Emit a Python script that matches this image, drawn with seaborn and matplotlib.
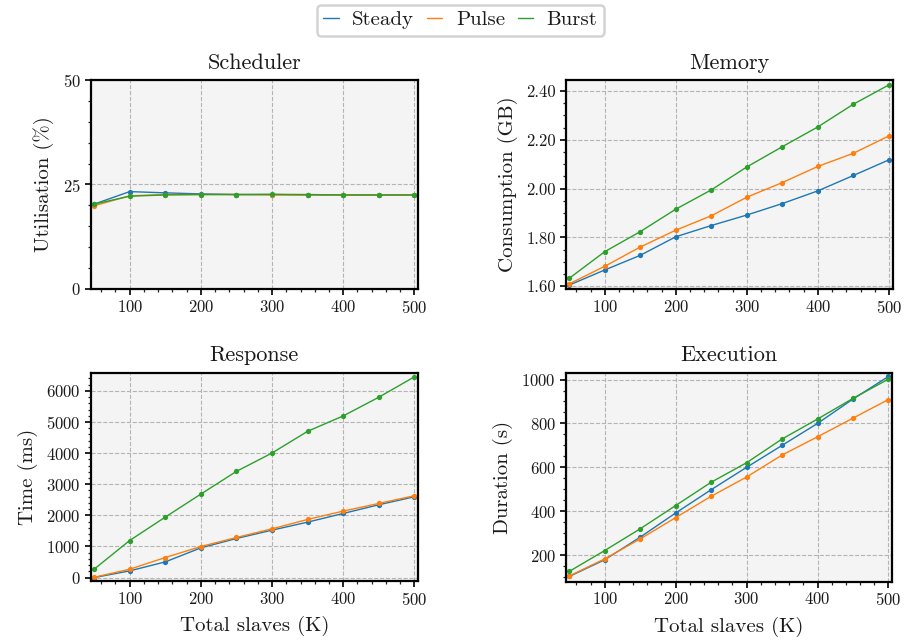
import numpy as np
import pandas as pd
import matplotlib
matplotlib.use("Agg")
import matplotlib.pyplot as plt
import seaborn as sns
from matplotlib.ticker import AutoMinorLocator, FixedLocator, FormatStrFormatter
from matplotlib.lines import Line2D

# ---------------- data ----------------
slaves = [50, 100, 150, 200, 250, 300, 350, 400, 450, 500]
series_names = ["Steady", "Pulse", "Burst"]
colors = ["#1f77b4", "#ff7f0e", "#2ca02c"]

sched_steady = [20.3, 23.3, 23.0, 22.75, 22.6, 22.6, 22.5, 22.5, 22.5, 22.5]
sched_pulse = [19.9, 22.3, 22.6, 22.6, 22.6, 22.5, 22.5, 22.5, 22.5, 22.5]
sched_burst = [20.3, 22.2, 22.5, 22.6, 22.6, 22.65, 22.6, 22.5, 22.5, 22.5]

mem_steady = [1.605, 1.667, 1.727, 1.803, 1.849, 1.892, 1.939, 1.991, 2.054, 2.118]
mem_pulse = [1.610, 1.682, 1.761, 1.830, 1.889, 1.965, 2.025, 2.091, 2.145, 2.216]
mem_burst = [1.633, 1.742, 1.824, 1.916, 1.995, 2.089, 2.172, 2.253, 2.346, 2.425]

resp_steady = [0, 215, 504, 955, 1256, 1524, 1782, 2061, 2340, 2597]
resp_pulse = [10, 268, 644, 998, 1288, 1567, 1868, 2136, 2383, 2630]
resp_burst = [268, 1191, 1943, 2683, 3413, 4003, 4701, 5195, 5796, 6451]

exec_steady = [103, 179, 282, 392, 498, 600, 700, 800, 911, 1014]
exec_pulse = [105, 183, 274, 371, 468, 556, 656, 739, 824, 909]
exec_burst = [126, 221, 320, 426, 532, 621, 729, 820, 914, 1002]

titles = ["Scheduler", "Memory", "Response", "Execution"]
ylabels = ["Utilisation (%)", "Consumption (GB)", "Time (ms)", "Duration (s)"]
xlabel = "Total slaves (K)"
x_ticks = [100, 200, 300, 400, 500]

panels = [
    (sched_steady, sched_pulse, sched_burst),
    (mem_steady, mem_pulse, mem_burst),
    (resp_steady, resp_pulse, resp_burst),
    (exec_steady, exec_pulse, exec_burst),
]
ylims = [(0, 50), (1.589, 2.445), (-110, 6590), (80, 1032)]
yticks = [[0, 25, 50], [1.6, 1.8, 2.0, 2.2, 2.4],
          [0, 1000, 2000, 3000, 4000, 5000, 6000], [200, 400, 600, 800, 1000]]

# ---------------- style ----------------
sns.set_style("ticks")
plt.rcParams["font.family"] = ["cmr10", "DejaVu Serif"]
plt.rcParams["mathtext.fontset"] = "cm"
plt.rcParams["axes.formatter.use_mathtext"] = True
plt.rcParams["axes.unicode_minus"] = False

fig = plt.figure(figsize=(9.06, 6.44), dpi=100)
W, H = 906, 644
boxes = [
    (90.5, 80, 418, 289),
    (565.7, 80, 892.5, 289),
    (90.5, 372.5, 418, 581),
    (565.7, 372.5, 892, 581.5),
]

TXT = "#1a1a1a"
for i, (box, vals) in enumerate(zip(boxes, panels)):
    l, t, r, b = box
    ax = fig.add_axes([l / W, 1 - b / H, (r - l) / W, (b - t) / H])
    rows = []
    for name, v in zip(series_names, vals):
        for xv, yv in zip(slaves, v):
            rows.append({"slaves": xv, "value": yv, "series": name})
    df = pd.DataFrame(rows)
    sns.lineplot(data=df, x="slaves", y="value", hue="series",
                 hue_order=series_names, palette=colors, marker="o",
                 markersize=3.8, markeredgewidth=0, linewidth=1.0,
                 errorbar=None, legend=False, ax=ax)
    ax.set_facecolor("#f4f4f4")
    ax.set_xlim(45, 505)
    ax.set_ylim(*ylims[i])
    ax.xaxis.set_major_locator(FixedLocator(x_ticks))
    ax.yaxis.set_major_locator(FixedLocator(yticks[i]))
    ax.xaxis.set_minor_locator(AutoMinorLocator(5))
    if i == 0:
        ax.yaxis.set_minor_locator(AutoMinorLocator(5))
    elif i == 1:
        ax.yaxis.set_minor_locator(AutoMinorLocator(4))
        ax.yaxis.set_major_formatter(FormatStrFormatter("%.2f"))
    elif i == 2:
        ax.yaxis.set_minor_locator(AutoMinorLocator(5))
    else:
        ax.yaxis.set_minor_locator(AutoMinorLocator(4))
    ax.grid(True, which="major", linestyle="--", color="#b4b4b4", linewidth=0.8)
    ax.set_axisbelow(True)
    for s in ax.spines.values():
        s.set_linewidth(1.6)
        s.set_color("black")
        s.set_visible(True)
    ax.tick_params(which="major", direction="out", length=4, width=1.2,
                   labelsize=12, colors="black", labelcolor=TXT, pad=3)
    ax.tick_params(which="minor", direction="out", length=2.2, width=0.9)
    ax.set_title(titles[i], fontsize=16, pad=8, color=TXT)
    ax.set_ylabel(ylabels[i], fontsize=15, color=TXT, labelpad=6)
    if i >= 2:
        ax.set_xlabel(xlabel, fontsize=15, color=TXT, labelpad=6)
    else:
        ax.set_xlabel("")

handles = [Line2D([0], [0], color=c, linewidth=1.0) for c in colors]
leg = fig.legend(handles, series_names, loc="upper center", ncol=3,
                 bbox_to_anchor=(0.508, 0.993), fontsize=15, frameon=True,
                 fancybox=True, handlelength=0.75, handletextpad=0.65,
                 columnspacing=0.6, borderpad=0.3, borderaxespad=0.0)
for t in leg.get_texts():
    t.set_color(TXT)
leg.get_frame().set_edgecolor("#c8c8c8")
leg.get_frame().set_linewidth(1.8)

fig.savefig("out.png", dpi=100)
